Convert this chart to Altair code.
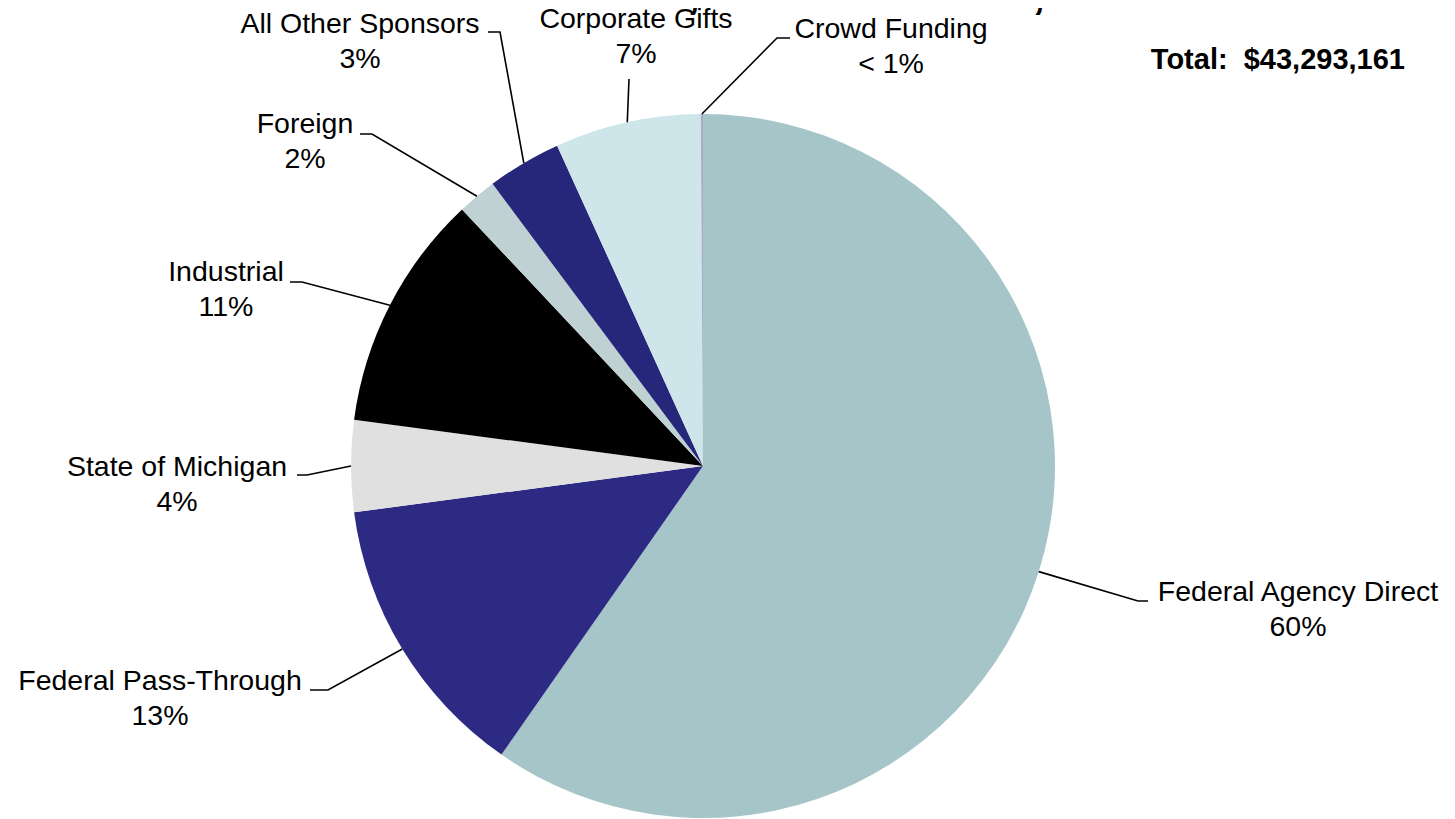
import math
import altair as alt
import pandas as pd

# ---- data ----
categories = ["Federal Agency Direct", "Federal Pass-Through", "State of Michigan",
              "Industrial", "Foreign", "All Other Sponsors", "Corporate Gifts",
              "Crowd Funding"]
shares = [59.7, 13.2, 4.2, 10.9, 1.8, 3.4, 6.7, 0.1]
pct_labels = ["60%", "13%", "4%", "11%", "2%", "3%", "7%", "< 1%"]
colors = ["#A5C5C9", "#2D2A84", "#E0E0E0", "#000000", "#C0D1D4", "#26267A",
          "#CEE6EA", "#A9ABC9"]
title_text = "Fiscal 2012, ended June 30, 2012"
total_text = "Total:\u00a0\u00a0$43,293,161"

# ---- layout (page pixels) ----
W, H = 1439, 811
PCX, PCY, R = 703, 466, 352  # pie centre / radius in page pixels


def ux(px):
    return (px - PCX) / R


def uy(py):
    return (PCY - py) / R


# leader elbow/end points, label centre x, first baseline
layout = {
    "Federal Agency Direct": ((1138, 601), (1148, 601), 1298, 601),
    "Federal Pass-Through": ((328, 690), (310, 690), 160, 690),
    "State of Michigan": ((307, 475), (297, 475), 177, 476),
    "Industrial": ((302, 282), (290, 282), 226, 281),
    "Foreign": ((372, 134), (360, 134), 305, 133),
    "All Other Sponsors": ((500, 32), (488, 32), 360, 33),
    "Corporate Gifts": ((629, 79), (629, 79), 636, 28),
    "Crowd Funding": ((777, 38), (790, 38), 891, 38),
}
LINE_GAP = 35

xscale = alt.Scale(domain=[ux(8), ux(8 + W)], nice=False, zero=False)
yscale = alt.Scale(domain=[uy(8 + H), uy(8)], nice=False, zero=False)

pie_df = pd.DataFrame({"category": categories, "share": shares,
                       "order": list(range(len(categories)))})

# leader lines: start on the pie edge at each slice's middle angle
total = sum(shares)
line_rows, text_rows = [], []
cum = 0.0
for i, (c, s) in enumerate(zip(categories, shares)):
    mid = (cum + s / 2) / total * 2 * math.pi
    cum += s
    elbow, end, lcx, base = layout[c]
    pts = [(math.sin(mid), math.cos(mid)), (ux(elbow[0]), uy(elbow[1])),
           (ux(end[0]), uy(end[1]))]
    for j, (px, py) in enumerate(pts):
        line_rows.append({"category": c, "seq": j, "x": px, "y": py})
    text_rows.append({"t": c, "x": ux(lcx), "y": uy(base)})
    text_rows.append({"t": pct_labels[i], "x": ux(lcx), "y": uy(base + LINE_GAP)})

lines_df = pd.DataFrame(line_rows)
text_df = pd.DataFrame(text_rows)

pie = alt.Chart(pie_df).mark_arc(outerRadius=R, stroke=None).encode(
    theta=alt.Theta("share:Q", stack=True),
    color=alt.Color("category:N", scale=alt.Scale(domain=categories, range=colors),
                    legend=None),
    order=alt.Order("order:Q"),
    x=alt.X(datum=0, type="quantitative", scale=xscale, axis=None),
    y=alt.Y(datum=0, type="quantitative", scale=yscale, axis=None),
)

leaders = alt.Chart(lines_df).mark_line(color="#000000", strokeWidth=1.6).encode(
    x=alt.X("x:Q", scale=xscale, axis=None),
    y=alt.Y("y:Q", scale=yscale, axis=None),
    detail="category:N",
    order="seq:Q",
)

labels = alt.Chart(text_df).mark_text(
    font="Liberation Sans", fontSize=28.5, color="#000000",
    align="center", baseline="alphabetic",
).encode(
    x=alt.X("x:Q", scale=xscale, axis=None),
    y=alt.Y("y:Q", scale=yscale, axis=None),
    text="t:N",
)

total_df = pd.DataFrame({"t": [total_text], "x": [ux(1405)], "y": [uy(69)]})
total_mark = alt.Chart(total_df).mark_text(
    font="Liberation Sans", fontSize=29, fontWeight="bold", color="#000000",
    align="right", baseline="alphabetic",
).encode(
    x=alt.X("x:Q", scale=xscale, axis=None),
    y=alt.Y("y:Q", scale=yscale, axis=None),
    text="t:N",
)

title_df = pd.DataFrame({"t": [title_text], "x": [ux(801)], "y": [uy(8)]})
title_mark = alt.Chart(title_df).mark_text(
    font="Liberation Sans", fontSize=46, fontWeight="bold", color="#000000",
    align="center", baseline="alphabetic",
).encode(
    x=alt.X("x:Q", scale=xscale, axis=None),
    y=alt.Y("y:Q", scale=yscale, axis=None),
    text="t:N",
)

chart = alt.layer(pie, leaders, labels, total_mark, title_mark).properties(
    width=W, height=H, padding=0, autosize="none",
).configure(background="#FFFFFF", view=alt.ViewConfig(stroke=None))

chart.save("out.html", embed_options={"renderer": "svg", "actions": False})
